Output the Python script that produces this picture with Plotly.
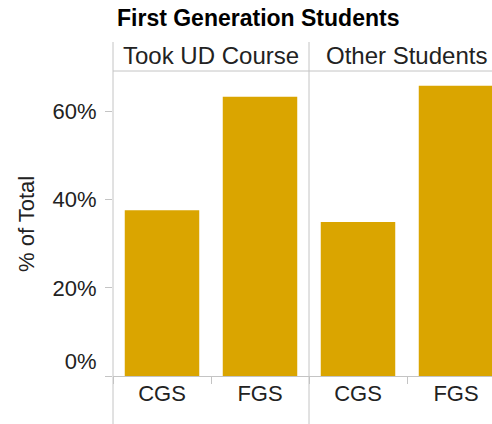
import plotly.graph_objects as go

# ---- data ----
title_text = "First Generation Students"
groups = ["Took UD Course", "Other Students"]
categories = ["CGS", "FGS"]
took_ud_values = [37.6, 63.3]
other_values = [34.9, 65.8]
y_tickvals = [0, 20, 40, 60]
y_ticktext = ["0%<br> ", "20%", "40%", "60%"]
y_title = "% of Total"

W, H = 492, 424
BAR = "#DAA500"
LINE = "#c4c4c4"
TXT = "#222222"
FONT = "Arial, Liberation Sans, sans-serif"

def px(x):
    return x / W

def py(y):
    return 1 - y / H

left, mid = 113, 309
top_header, header_line, base = 42, 71, 376
per_pct = 4.41
band = (mid - left) / 2.0

fig = go.Figure()
for i, (g, vals) in enumerate(zip(groups, [took_ud_values, other_values])):
    fig.add_trace(go.Bar(
        x=categories, y=vals, name=g,
        marker=dict(color=BAR, line=dict(width=0)),
        width=0.76, xaxis="x" if i == 0 else "x2", yaxis="y" if i == 0 else "y2",
        showlegend=False, hoverinfo="x+y",
    ))

ymax = (base - header_line) / per_pct
xcommon = dict(
    type="category", categoryorder="array", categoryarray=categories,
    showline=True, linecolor=LINE, linewidth=1,
    ticks="outside", tickson="boundaries", ticklen=7, tickcolor=LINE, tickwidth=1,
    ticklabelstandoff=-2, automargin=False,
    tickfont=dict(family=FONT, size=22, color=TXT),
    showgrid=False, zeroline=False, fixedrange=True,
)
ycommon = dict(
    range=[0, ymax], domain=[py(base), py(header_line)], automargin=False,
    showgrid=False, zeroline=False, showline=False, fixedrange=True,
)

fig.update_layout(
    width=W, height=H, autosize=False,
    margin=dict(l=0, r=0, t=0, b=0, pad=0),
    paper_bgcolor="white", plot_bgcolor="white",
    bargap=0.24,
    xaxis=dict(domain=[px(left), px(mid)], range=[-0.5, 1.5], anchor="y", **xcommon),
    xaxis2=dict(domain=[px(mid), 1.0], range=[-0.5, -0.5 + (W - mid) / band], anchor="y2", **xcommon),
    yaxis=dict(anchor="x", tickmode="array", tickvals=y_tickvals, ticktext=y_ticktext,
               ticks="outside", ticklen=7, tickcolor=LINE, tickwidth=1,
               ticklabelstandoff=4,
               tickfont=dict(family=FONT, size=22, color=TXT), **ycommon),
    yaxis2=dict(anchor="x2", matches="y", showticklabels=False, ticks="", **ycommon),
    font=dict(family=FONT, color=TXT),
)

shapes = [
    dict(x0=px(left), x1=px(left), y0=py(top_header), y1=0),
    dict(x0=px(mid), x1=px(mid), y0=py(top_header), y1=0),
    dict(x0=px(left), x1=1, y0=py(header_line), y1=py(header_line)),
]
for s in shapes:
    s.update(type="line", xref="paper", yref="paper", line=dict(color=LINE, width=1), layer="above")
fig.update_layout(shapes=shapes)

ann = [
    dict(text="<b>" + title_text + "</b>", x=px(115), y=py(18), xanchor="left", yanchor="middle",
         font=dict(family=FONT, size=23, color="#000000")),
    dict(text=groups[0], x=px((left + mid) / 2), y=py(56), xanchor="center", yanchor="middle",
         font=dict(family=FONT, size=24, color=TXT)),
    dict(text=groups[1], x=px(406), y=py(56), xanchor="center", yanchor="middle",
         font=dict(family=FONT, size=24, color=TXT)),
    dict(text=y_title, x=px(26), y=py(224), xanchor="center", yanchor="middle", textangle=-90,
         font=dict(family=FONT, size=22, color=TXT)),
]
for a in ann:
    a.update(xref="paper", yref="paper", showarrow=False)
fig.update_layout(annotations=ann)

fig.write_html(
    "out.html",
    config={"responsive": False, "displayModeBar": False, "staticPlot": True},
    post_script="document.body.style.margin='0';document.body.style.overflow='hidden';",
)
